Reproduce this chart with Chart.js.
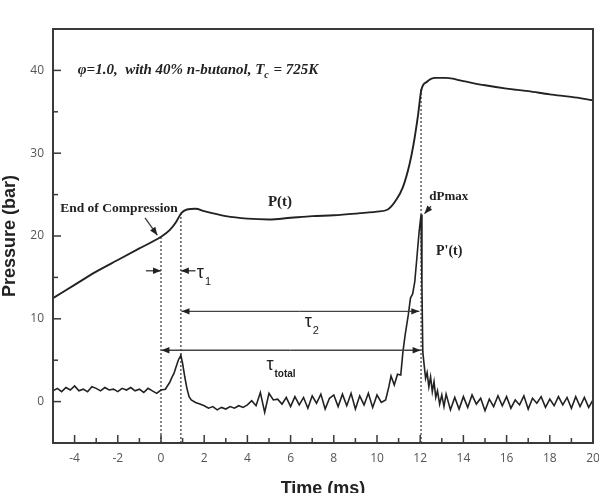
<!DOCTYPE html>
<html>
<head>
<meta charset="utf-8">
<script src="https://cdn.jsdelivr.net/npm/chart.js@4.4.1/dist/chart.umd.min.js"></script>
<style>
  html, body { margin: 0; padding: 0; background: #fff; }
</style>
</head>
<body>
<canvas id="myChart" width="599" height="493"></canvas>
<script>
// P(t) curve
const pressureTime = [-5, -4, -3, -2, -1, 0, 0.4, 0.7, 0.95, 1.2, 1.6, 2, 3, 4, 5, 6, 7, 8, 9, 10, 10.5,
  10.9, 11.2, 11.5, 11.7, 11.9, 12.05, 12.3, 12.7, 13.2, 14, 15, 16, 17, 18, 19, 20];
const pressureValues = [12.5, 14.1, 15.7, 17.1, 18.5, 19.9, 20.7, 21.7, 22.8, 23.2, 23.3, 23.0, 22.4, 22.1, 22.0, 22.2, 22.4, 22.5, 22.7, 22.95, 23.2,
  24.4, 25.9, 28.6, 31.2, 34.6, 37.6, 38.6, 39.1, 39.1, 38.7, 38.2, 37.8, 37.5, 37.1, 36.8, 36.4];

// P'(t) trace
const derivTime = [
  -5.0, -4.8, -4.6, -4.4, -4.2, -4.0, -3.8, -3.6, -3.4, -3.2, -3.0, -2.8, -2.6, -2.4, -2.2, -2.0, -1.8, -1.6, -1.4, -1.2, -1.0, -0.8, -0.6, -0.4, -0.2, 0.0,
  0.2, 0.4, 0.5, 0.6, 0.7, 0.8, 0.92, 1.0, 1.1, 1.2, 1.3, 1.4, 1.6,
  1.8, 2.0, 2.2, 2.4, 2.6, 2.8, 3.0, 3.2, 3.4, 3.6, 3.8, 4.0,
  4.2, 4.4, 4.6, 4.8, 5.0, 5.2, 5.4, 5.6, 5.8, 6.0, 6.2, 6.4, 6.6, 6.8, 7.0, 7.2, 7.4, 7.6, 7.8, 8.0, 8.2, 8.4, 8.6, 8.8, 9.0, 9.2, 9.4, 9.6, 9.8, 10.0, 10.2, 10.4,
  10.55, 10.65, 10.8, 10.95, 11.1, 11.2, 11.3, 11.45, 11.55, 11.65, 11.75, 11.85, 11.95, 12.04, 12.08, 12.12, 12.18, 12.25, 12.32, 12.4, 12.48, 12.56, 12.64, 12.72, 12.8, 12.9, 13.0, 13.1, 13.2,
  13.4, 13.6, 13.8, 14.0, 14.2, 14.4, 14.6, 14.8, 15.0, 15.2, 15.4, 15.6, 15.8, 16.0, 16.2, 16.4, 16.6, 16.8, 17.0, 17.2, 17.4, 17.6, 17.8, 18.0, 18.2, 18.4, 18.6, 18.8, 19.0, 19.2, 19.4, 19.6, 19.8, 20.0
];
const derivValues = [
  1.3, 1.6, 1.2, 1.7, 1.4, 1.9, 1.3, 1.5, 1.2, 1.8, 1.6, 1.3, 1.7, 1.4, 1.5, 1.2, 1.6, 1.4, 1.7, 1.3, 1.5, 1.1, 1.6, 1.3, 1.0, 1.4,
  1.5, 2.3, 2.9, 3.4, 4.2, 5.0, 5.6, 4.6, 3.0, 1.6, 0.6, 0.2, -0.1,
  -0.3, -0.5, -0.8, -0.6, -1.0, -0.7, -0.9, -0.6, -0.8, -0.5, -0.7, -0.4,
  0.1, -0.5, 1.1, -1.3, 1.0, 0.2, 0.3, -0.3, 0.5, -0.6, 0.6, -0.4, 0.5, -0.8, 0.7, -0.2, 0.9, -0.9, 0.4, 0.8, -0.6, 0.9, -0.5, 1.0, -0.9, 0.7, -0.4, 1.0, -0.7, 0.8, -0.1, 0.2,
  1.8, 3.1, 2.0, 3.3, 3.2, 6.0, 8.0, 10.5, 12.5, 13.0, 14.5, 17.5, 20.5, 22.6, 14.0, 6.0, 4.5, 2.8, 3.5, 1.8, 3.0, 1.2, 2.4, 0.5, 1.3, -0.3, 0.8, -0.6, 0.9,
  -1.0, 0.5, -0.9, 0.6, -0.7, 0.8, -0.3, 0.4, -1.1, 0.3, -0.6, 0.7, -0.5, 0.6, -0.8, 0.2, -0.4, 0.7, -0.9, 0.4, -0.2, 0.6, -0.7, 0.3, -0.5, 0.6, -0.4, 0.5, -0.8, 0.6, -0.6, 0.5, -0.7, 0.2
];

// dotted marker lines: time and top of the line
const markerTimes = [0, 0.92, 12.04];
const markerTops = [19.9, 22.8, 37.8];

const toPoints = (xs, ys) => xs.map((v, i) => ({ x: v, y: ys[i] }));

const datasets = [
  {
    data: toPoints(pressureTime, pressureValues),
    borderColor: "#222",
    borderWidth: 1.9,
    cubicInterpolationMode: "monotone",
  },
  {
    data: toPoints(derivTime, derivValues),
    borderColor: "#222",
    borderWidth: 1.6,
  },
];
markerTimes.forEach((t, i) => {
  datasets.push({
    data: [{ x: t, y: -5 }, { x: t, y: markerTops[i] }],
    borderColor: "#444",
    borderWidth: 1.3,
    borderDash: [2, 2],
  });
});

// annotation arrows (data coords, head at "to")
const arrows = [
  { from: [-0.7, 15.8], to: [0, 15.8] },
  { from: [1.6, 15.8], to: [0.92, 15.8] },
  { from: [6.4, 10.9], to: [0.95, 10.9] },
  { from: [6.4, 10.9], to: [11.96, 10.9] },
  { from: [6, 6.2], to: [0.02, 6.2] },
  { from: [6, 6.2], to: [12.02, 6.2] },
  { from: [-0.74, 22.2], to: [-0.17, 20.1] },
  { from: [12.5, 23.6], to: [12.2, 22.7] },
];

const notes = [
  { text: "End of Compression", x: -4.67, y: 23.3, font: "bold 13.5px 'Liberation Serif'" },
  { text: "P(t)", x: 4.95, y: 24.1, font: "bold 15px 'Liberation Serif'" },
  { text: "dPmax", x: 12.42, y: 24.7, font: "bold 13px 'Liberation Serif'" },
  { text: "P'(t)", x: 12.73, y: 18.1, font: "bold 14px 'Liberation Serif'" },
];

const taus = [
  { sub: "1", x: 1.66, y: 15.55 },
  { sub: "2", x: 6.65, y: 9.67 },
  { sub: "total", x: 4.88, y: 4.43 },
];

const drawExtras = {
  id: "drawExtras",
  afterDatasetsDraw(chart) {
    const { ctx, chartArea: a, scales } = chart;
    const xs = scales.x, ys = scales.y;
    const px = (v) => xs.getPixelForValue(v);
    const py = (v) => ys.getPixelForValue(v);
    ctx.save();

    // frame
    ctx.strokeStyle = "#3a3a3a";
    ctx.lineWidth = 2;
    ctx.strokeRect(a.left, a.top, a.right - a.left, a.bottom - a.top);

    // inward ticks
    ctx.lineWidth = 1.5;
    xs.ticks.forEach((t) => {
      const p = px(t.value);
      const len = t.label !== "" ? 8 : 5;
      ctx.beginPath();
      ctx.moveTo(p, a.bottom);
      ctx.lineTo(p, a.bottom - len);
      ctx.stroke();
    });
    ys.ticks.forEach((t) => {
      const p = py(t.value);
      const len = t.label !== "" ? 8 : 5;
      ctx.beginPath();
      ctx.moveTo(a.left, p);
      ctx.lineTo(a.left + len, p);
      ctx.stroke();
    });

    // arrows
    ctx.strokeStyle = "#444";
    ctx.fillStyle = "#222";
    ctx.lineWidth = 1.4;
    arrows.forEach((ar) => {
      const x1 = px(ar.from[0]), y1 = py(ar.from[1]);
      const x2 = px(ar.to[0]), y2 = py(ar.to[1]);
      ctx.beginPath();
      ctx.moveTo(x1, y1);
      ctx.lineTo(x2, y2);
      ctx.stroke();
      const ang = Math.atan2(y2 - y1, x2 - x1);
      const L = 8, W = 3.2;
      ctx.beginPath();
      ctx.moveTo(x2, y2);
      ctx.lineTo(x2 - L * Math.cos(ang) + W * Math.sin(ang), y2 - L * Math.sin(ang) - W * Math.cos(ang));
      ctx.lineTo(x2 - L * Math.cos(ang) - W * Math.sin(ang), y2 - L * Math.sin(ang) + W * Math.cos(ang));
      ctx.closePath();
      ctx.fill();
    });

    // text notes
    ctx.fillStyle = "#222";
    ctx.textBaseline = "middle";
    ctx.textAlign = "left";
    notes.forEach((n) => {
      ctx.font = n.font;
      ctx.fillText(n.text, px(n.x), py(n.y));
    });

    // tau labels
    taus.forEach((t) => {
      const x0 = px(t.x), y0 = py(t.y);
      ctx.font = "18px 'Liberation Sans'";
      ctx.fillText("τ", x0, y0);
      const w = ctx.measureText("τ").width;
      ctx.font = t.sub === "total" ? "bold 10px 'Liberation Sans'" : "11px 'Liberation Sans'";
      ctx.fillText(t.sub, x0 + w + 1, y0 + 9);
    });

    // header line
    let hx = px(-3.85);
    const hy = py(40.05);
    ctx.font = "italic bold 15px 'Liberation Serif'";
    const part1 = "φ=1.0,  with 40% n-butanol, T";
    ctx.fillText(part1, hx, hy);
    hx += ctx.measureText(part1).width;
    ctx.font = "italic bold 10px 'Liberation Serif'";
    ctx.fillText("c", hx, hy + 5);
    hx += ctx.measureText("c").width + 1;
    ctx.font = "italic bold 15px 'Liberation Serif'";
    ctx.fillText(" = 725K", hx, hy);

    ctx.restore();
  },
};

const options = {
  responsive: false,
  animation: false,
  devicePixelRatio: 1,
  layout: { autoPadding: false, padding: { top: 29, right: 6, left: 0, bottom: 0 } },
  elements: { point: { radius: 0 }, line: { tension: 0, fill: false } },
  plugins: { legend: { display: false }, tooltip: { enabled: false } },
  scales: {
    x: {
      type: "linear",
      min: -5,
      max: 20,
      grid: { display: false, drawTicks: false },
      border: { display: false },
      ticks: {
        stepSize: 1,
        autoSkip: false,
        maxRotation: 0,
        padding: 8,
        color: "#555",
        font: { family: "'Open Sans'", size: 12 },
        callback: (v) => (v % 2 === 0 ? v : ""),
      },
      title: {
        display: true,
        text: "Time (ms)",
        color: "#222",
        font: { family: "'Liberation Sans'", size: 18, weight: "bold" },
        padding: { top: 0, bottom: -7 },
      },
      afterFit: (s) => {
        s.height = 50;
        s.paddingLeft = 0;
        s.paddingRight = 0;
      },
    },
    y: {
      min: -5,
      max: 45,
      grid: { display: false, drawTicks: false },
      border: { display: false },
      ticks: {
        stepSize: 5,
        padding: 9,
        color: "#555",
        font: { family: "'Open Sans'", size: 12 },
        callback: (v) => (v % 10 === 0 ? v : ""),
      },
      title: {
        display: true,
        text: "Pressure (bar)",
        color: "#222",
        font: { family: "'Liberation Sans'", size: 18, weight: "bold" },
        padding: { top: -1, bottom: 0 },
      },
      afterFit: (s) => {
        s.width = 53;
        s.paddingTop = 0;
        s.paddingBottom = 0;
      },
    },
  },
};

const ctx = document.getElementById("myChart").getContext("2d");
const chart = new Chart(ctx, {
  type: "scatter",
  data: { datasets: datasets.map((d) => Object.assign({ showLine: true, pointRadius: 0 }, d)) },
  options: options,
  plugins: [drawExtras],
});
</script>
</body>
</html>
